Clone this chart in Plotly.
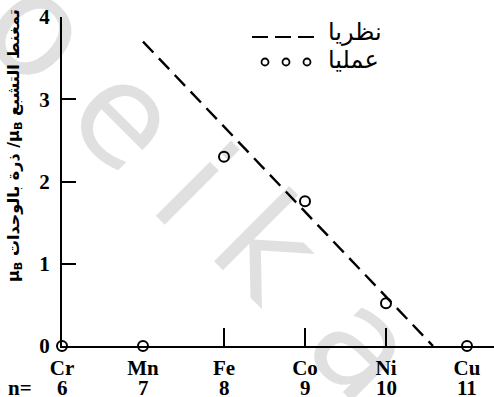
import plotly.graph_objects as go

# Electron count n and element symbols along the horizontal axis
n_values = [6, 7, 8, 9, 10, 11]
elements = ["Cr", "Mn", "Fe", "Co", "Ni", "Cu"]

# Measured saturation moments (μB per atom)
measured = [0, 0, 2.3, 1.76, 0.52, 0]

# Theoretical straight line (end points)
theory_n = [7.0, 10.58]
theory_mu = [3.7, 0.0]

y_ticks = [0, 1, 2, 3, 4]
minor_marks = [8, 9, 10]

W, H = 494, 397
L, R, T, B = 62, 0, 17, 51
PW, PH = W - L - R, H - T - B


def px(x, y):
    """Pixel position on the page -> paper coordinates."""
    return (x - L) / PW, (H - B - y) / PH


serif = dict(family="Liberation Serif", size=21, color="black")
arabic = "DejaVu Sans"

fig = go.Figure()

# dashed theoretical line (on the overlay axis that carries the inner ticks)
fig.add_trace(go.Scatter(
    x=theory_n, y=theory_mu, mode="lines", xaxis="x2", yaxis="y",
    line=dict(color="black", width=2.4, dash="15px,8px"),
    showlegend=False, hoverinfo="skip",
))

# measured points as open circles
fig.add_trace(go.Scatter(
    x=n_values, y=measured, mode="markers",
    marker=dict(symbol="circle", size=10, color="white",
                line=dict(color="black", width=2)),
    cliponaxis=False, showlegend=False, hoverinfo="skip",
))

fig.update_layout(
    width=W, height=H,
    margin=dict(l=L, r=R, t=T, b=B, pad=0),
    paper_bgcolor="white", plot_bgcolor="white",
    showlegend=False,
    xaxis=dict(
        range=[6, 6 + PW / 81.0], tickmode="array", tickvals=n_values,
        ticktext=[f"<b>{e}</b>" for e in elements], ticks="",
        showgrid=False, zeroline=False,
        showline=True, linecolor="black", linewidth=2,
        tickfont=serif, ticklabelstandoff=2,
    ),
    xaxis2=dict(
        overlaying="x", matches="x", anchor="y", side="bottom",
        tickmode="array", tickvals=minor_marks, ticks="inside",
        ticklen=18, tickwidth=2, tickcolor="black",
        showticklabels=False, showgrid=False, zeroline=False, showline=False,
    ),
    yaxis=dict(
        range=[0, 4], tickmode="array", tickvals=y_ticks,
        ticktext=[f"<b>{v}</b>" for v in y_ticks],
        ticks="inside", ticklen=14, tickwidth=2, tickcolor="black",
        showgrid=False, zeroline=False, showline=True,
        linecolor="black", linewidth=2, tickfont=serif,
        ticklabelstandoff=6,
    ),
)

ann = []

# electron counts under the element symbols
_, yn = px(0, 388)
for n in n_values:
    ann.append(dict(x=n, y=yn, xref="x", yref="paper", text=f"<b>{n}</b>",
                    showarrow=False, font=serif, xanchor="center", yanchor="middle"))

# "n=" in front of the electron counts
x, y = px(20, 388)
ann.append(dict(x=x, y=y, xref="paper", yref="paper", text="<b>n=</b>",
                showarrow=False, font=serif, xanchor="center", yanchor="middle"))

# vertical axis title
x, y = px(14, 146)
ann.append(dict(
    x=x, y=y, xref="paper", yref="paper", showarrow=False, textangle=-90,
    text="\u202b<b>تمغنط التشبع μ<sub>B</sub>/ ذرة بالوحدات μ<sub>B</sub></b>\u202c",
    font=dict(family=arabic, size=16, color="black"),
    xanchor="center", yanchor="middle",
))

# key: theoretical / experimental
x, y = px(355, 32)
ann.append(dict(x=x, y=y, xref="paper", yref="paper", text="نظريا",
                showarrow=False, font=dict(family=arabic, size=24, color="black"),
                xanchor="center", yanchor="middle"))
x, y = px(353, 60)
ann.append(dict(x=x, y=y, xref="paper", yref="paper", text="عمليا",
                showarrow=False, font=dict(family=arabic, size=24, color="black"),
                xanchor="center", yanchor="middle"))

# faint diagonal watermark, letter by letter (translucent so the black lines stay black)
for ch, (cx, cy) in zip("oeika", [(40, 28), (126, 116), (194, 186), (268, 246), (365, 345)]):
    x, y = px(cx, cy)
    ann.append(dict(x=x, y=y, xref="paper", yref="paper", text=ch,
                    showarrow=False, textangle=45,
                    font=dict(family="DejaVu Sans", size=140, color="rgba(0,0,0,0.12)"),
                    xanchor="center", yanchor="middle"))

fig.update_layout(annotations=ann)

# key samples
shapes = []
x0, y0 = px(252, 37)
x1, _ = px(318, 37)
shapes.append(dict(type="line", xref="paper", yref="paper", x0=x0, x1=x1, y0=y0, y1=y0,
                   line=dict(color="black", width=2, dash="16px,7px")))
for cx in (265, 286, 307):
    x, y = px(cx, 62)
    shapes.append(dict(type="circle", xref="paper", yref="paper",
                       xsizemode="pixel", ysizemode="pixel", xanchor=x, yanchor=y,
                       x0=-3.5, x1=3.5, y0=-3.5, y1=3.5,
                       line=dict(color="black", width=1.8)))
fig.update_layout(shapes=shapes)

fig.write_html("out.html")
